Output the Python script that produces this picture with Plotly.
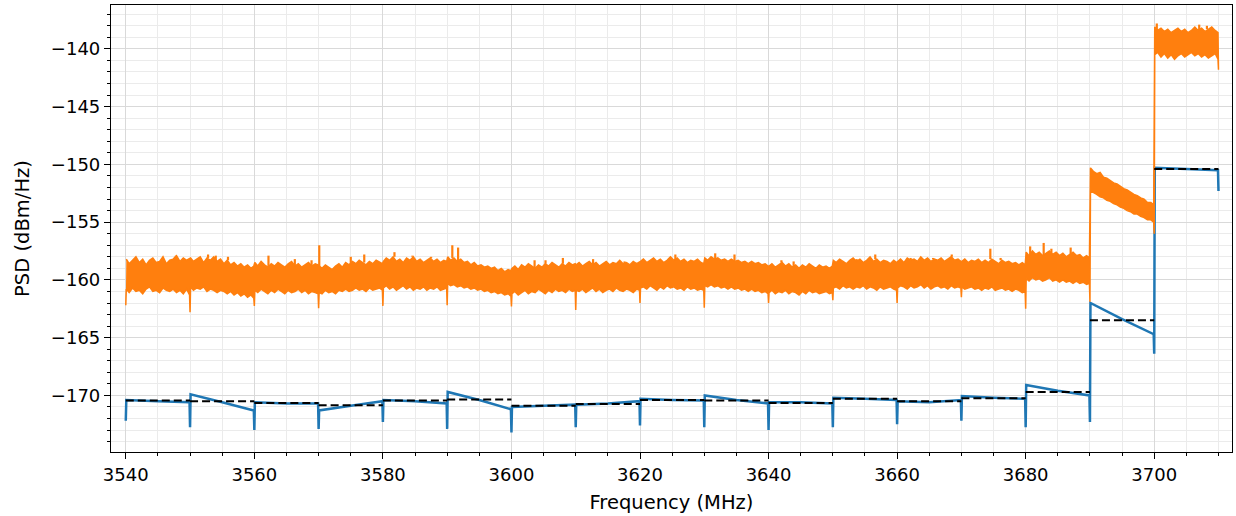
import plotly.graph_objects as go

# ---------------- data ----------------
seg_start = [3540, 3550, 3560, 3570, 3580, 3590, 3600, 3610, 3620,
             3630, 3640, 3650, 3660, 3670, 3680, 3690, 3700]
seg_width = 10

# blue trace: dip at segment start, then level at start / middle / end
blue_dip = [-172.2, -172.75, -173.0, -172.9, -172.3, -172.9, -173.2, -172.75, -172.6,
            -172.75, -173.0, -172.75, -172.5, -172.2, -172.75, -172.3, -166.4]
blue_start = [-170.4, -169.9, -170.6, -171.3, -170.4, -169.7, -171.0, -170.8, -170.3,
              -170.0, -170.6, -170.2, -170.5, -170.05, -169.1, -162.0, -150.3]
blue_mid = [-170.5, -170.6, -170.7, -170.9, -170.5, -170.4, -170.9, -170.7, -170.4,
            -170.4, -170.6, -170.3, -170.6, -170.2, -169.6, -163.4, -150.4]
blue_end = [-170.6, -171.3, -170.7, -170.5, -170.7, -171.2, -170.8, -170.5, -170.45,
            -170.7, -170.7, -170.4, -170.4, -170.3, -170.0, -164.7, -150.5]
blue_final_dip = -152.3

# black dashed: per-segment mean level
dash_level = [-170.45, -170.5, -170.65, -170.85, -170.45, -170.35, -170.9, -170.75, -170.4,
              -170.45, -170.65, -170.3, -170.5, -170.25, -169.7, -163.5, -150.4]

# orange trace: dip at segment start, upper / lower envelope (20 readings per segment)
orange_dip = [-162.2, -162.8, -162.25, -162.45, -162.25, -162.2, -162.3, -162.6, -162.0,
              -162.4, -162.0, -161.75, -162.0, -161.5, -162.5, -161.9, -156.0]
orange_final_dip = -141.8
orange_top = [
    [-158.2, -158.6, -158.3, -158.0, -158.5, -158.2, -158.7, -158.3, -158.1, -158.5,
     -158.4, -158.0, -158.6, -158.3, -158.2, -157.9, -158.4, -158.1, -158.3, -158.2],
    [-158.1, -158.4, -158.2, -158.0, -158.5, -158.1, -158.3, -158.0, -158.4, -158.2,
     -158.6, -158.3, -158.7, -158.5, -158.8, -158.6, -158.9, -158.7, -159.0, -158.8],
    [-158.5, -158.8, -158.4, -158.7, -158.9, -158.6, -158.8, -158.5, -158.7, -158.9,
     -158.6, -158.4, -158.8, -158.6, -158.9, -158.7, -158.5, -158.8, -158.6, -158.7],
    [-158.8, -159.0, -158.7, -158.9, -159.1, -158.8, -158.6, -158.9, -158.5, -158.7,
     -158.4, -158.6, -158.3, -158.5, -158.7, -158.4, -158.6, -158.3, -158.5, -158.6],
    [-158.4, -158.1, -158.3, -158.0, -158.4, -158.2, -158.5, -158.1, -158.3, -158.0,
     -158.4, -158.2, -158.5, -158.3, -158.1, -158.4, -158.2, -158.5, -158.3, -158.4],
    [-158.0, -158.3, -158.1, -158.4, -158.2, -158.5, -158.4, -158.7, -158.5, -158.8,
     -158.7, -158.9, -158.8, -159.0, -158.9, -159.2, -159.0, -159.3, -159.1, -159.2],
    [-159.0, -158.8, -159.1, -158.7, -158.9, -158.6, -158.8, -159.0, -158.7, -158.9,
     -158.6, -158.8, -158.5, -158.7, -158.9, -158.6, -158.8, -158.5, -158.7, -158.6],
    [-158.7, -158.5, -158.8, -158.6, -158.4, -158.7, -158.5, -158.8, -158.6, -158.4,
     -158.7, -158.5, -158.6, -158.3, -158.6, -158.5, -158.7, -158.4, -158.6, -158.5],
    [-158.4, -158.2, -158.5, -158.3, -158.1, -158.4, -158.2, -158.5, -158.3, -158.0,
     -158.3, -158.1, -158.4, -158.2, -158.5, -158.3, -158.4, -158.2, -158.5, -158.6],
    [-158.1, -158.3, -158.0, -158.2, -158.1, -158.3, -158.2, -158.4, -158.2, -158.4,
     -158.3, -158.5, -158.4, -158.6, -158.4, -158.6, -158.5, -158.7, -158.6, -158.8],
    [-158.8, -158.6, -158.9, -158.7, -158.5, -158.8, -158.6, -158.9, -158.7, -159.0,
     -158.7, -158.9, -158.6, -158.8, -159.0, -158.7, -158.9, -158.8, -159.0, -158.8],
    [-158.3, -158.5, -158.2, -158.4, -158.6, -158.3, -158.1, -158.4, -158.2, -158.5,
     -158.3, -158.0, -158.4, -158.2, -158.5, -158.3, -158.4, -158.6, -158.3, -158.5],
    [-158.4, -158.2, -158.5, -158.1, -158.3, -158.2, -158.4, -158.0, -158.3, -158.1,
     -158.4, -158.2, -158.3, -158.1, -158.4, -158.2, -158.0, -158.3, -158.2, -158.4],
    [-158.4, -158.2, -158.5, -158.3, -158.4, -158.2, -158.5, -158.3, -158.5, -158.2,
     -158.4, -158.6, -158.3, -158.5, -158.4, -158.6, -158.5, -158.7, -158.5, -158.7],
    [-157.6, -157.9, -157.5, -157.8, -157.6, -157.9, -157.7, -157.5, -157.8, -157.6,
     -157.9, -157.7, -158.0, -157.8, -157.6, -157.9, -157.8, -158.1, -157.9, -158.1],
    [-150.3, -150.6, -150.8, -150.7, -151.1, -151.2, -151.4, -151.6, -151.7, -151.9,
     -152.1, -152.2, -152.4, -152.6, -152.7, -152.9, -153.0, -153.3, -153.3, -153.5],
    [-138.1, -138.4, -138.2, -138.5, -138.3, -138.6, -138.4, -138.2, -138.5, -138.3,
     -138.6, -138.4, -138.1, -138.4, -138.2, -138.5, -138.3, -138.1, -138.4, -138.6],
]
orange_bot = [
    [-160.8, -161.1, -160.7, -161.0, -160.9, -161.2, -160.8, -160.6, -161.0, -160.9,
     -161.1, -160.7, -160.9, -161.0, -160.8, -161.1, -160.9, -161.2, -160.8, -161.3],
    [-160.6, -160.9, -160.7, -160.8, -160.6, -161.0, -160.8, -160.9, -161.1, -160.9,
     -161.0, -161.2, -161.0, -161.3, -161.1, -161.4, -161.2, -161.5, -161.3, -161.6],
    [-160.9, -161.1, -160.8, -161.0, -161.2, -160.9, -161.1, -160.8, -161.0, -161.2,
     -160.9, -161.1, -161.0, -160.8, -161.1, -160.9, -161.2, -161.0, -161.1, -161.2],
    [-161.1, -161.2, -160.9, -161.1, -161.0, -161.2, -160.9, -161.0, -160.8, -161.0,
     -160.9, -160.7, -160.9, -160.8, -161.0, -160.7, -160.9, -160.8, -160.7, -160.9],
    [-160.7, -160.5, -160.8, -160.6, -160.9, -160.7, -160.5, -160.8, -160.6, -160.9,
     -160.7, -160.8, -160.6, -160.9, -160.7, -160.8, -160.6, -160.9, -160.8, -160.7],
    [-160.3, -160.5, -160.4, -160.6, -160.5, -160.7, -160.6, -160.8, -160.7, -160.9,
     -160.8, -161.0, -160.9, -161.1, -161.0, -161.2, -161.1, -161.3, -161.2, -161.4],
    [-161.2, -161.0, -161.3, -161.1, -160.9, -161.2, -161.0, -161.1, -160.8, -161.0,
     -161.2, -160.9, -161.1, -160.8, -161.0, -160.9, -161.1, -160.8, -161.0, -160.9],
    [-160.9, -161.0, -160.8, -161.1, -160.9, -160.7, -161.0, -160.8, -161.1, -160.9,
     -160.8, -161.0, -160.7, -160.9, -161.0, -160.8, -160.9, -161.1, -160.8, -160.9],
    [-160.7, -160.6, -160.8, -160.5, -160.7, -160.9, -160.6, -160.8, -160.5, -160.7,
     -160.6, -160.8, -160.7, -160.9, -160.6, -160.8, -160.7, -160.9, -160.8, -160.9],
    [-160.5, -160.6, -160.4, -160.6, -160.5, -160.7, -160.6, -160.8, -160.6, -160.8,
     -160.7, -160.9, -160.8, -161.0, -160.8, -161.0, -160.9, -161.1, -161.0, -161.2],
    [-161.1, -160.9, -161.2, -161.0, -161.1, -160.9, -161.2, -161.0, -161.1, -161.3,
     -161.0, -161.2, -160.9, -161.1, -161.0, -161.2, -161.1, -161.0, -161.2, -161.1],
    [-160.7, -160.6, -160.8, -160.5, -160.7, -160.6, -160.8, -160.6, -160.7, -160.5,
     -160.8, -160.6, -160.7, -160.9, -160.6, -160.8, -160.7, -160.6, -160.8, -160.9],
    [-160.7, -160.5, -160.6, -160.8, -160.5, -160.7, -160.6, -160.4, -160.7, -160.5,
     -160.8, -160.6, -160.5, -160.7, -160.6, -160.8, -160.5, -160.7, -160.6, -160.7],
    [-160.6, -160.8, -160.7, -160.6, -160.8, -160.7, -160.9, -160.7, -160.8, -160.6,
     -160.9, -160.8, -160.7, -160.9, -160.8, -161.0, -160.8, -160.9, -161.1, -161.0],
    [-159.9, -160.1, -159.8, -160.0, -159.9, -160.1, -160.0, -159.8, -160.1, -160.0,
     -160.2, -160.0, -160.2, -160.1, -160.3, -160.1, -160.3, -160.2, -160.4, -160.3],
    [-152.3, -152.4, -152.6, -152.8, -152.9, -153.1, -153.2, -153.4, -153.5, -153.7,
     -153.8, -154.0, -154.1, -154.3, -154.3, -154.5, -154.6, -154.8, -154.8, -155.0],
    [-140.5, -140.3, -140.7, -140.4, -140.8, -140.5, -140.9, -140.6, -140.4, -140.7,
     -140.5, -140.3, -140.6, -140.4, -140.7, -140.5, -140.8, -140.6, -140.4, -140.9],
]
# narrow upward spikes of the orange trace
spike_freq = [3547.8, 3549.1, 3552.8, 3554.0, 3555.9, 3562.2, 3566.3, 3568.9, 3570.1,
              3575.0, 3577.1, 3581.8, 3584.6, 3587.5, 3590.8, 3591.7, 3603.6, 3605.3,
              3608.0, 3612.7, 3617.6, 3622.2, 3625.5, 3631.7, 3634.7, 3642.0, 3643.9,
              3653.7, 3656.6, 3662.1, 3665.6, 3668.5, 3674.5, 3676.1, 3680.7, 3682.8,
              3684.0, 3687.0, 3700.4, 3707.0, 3708.2]
spike_val = [-158.1, -158.1, -157.8, -157.9, -158.0, -157.9, -158.2, -158.3, -157.0,
             -158.0, -157.8, -157.6, -157.9, -158.0, -157.0, -157.2, -158.3, -158.3,
             -158.1, -158.2, -158.4, -158.1, -157.8, -157.7, -157.8, -158.3, -158.4,
             -158.2, -157.8, -158.1, -158.1, -157.8, -157.3, -158.1, -157.1, -156.8,
             -157.3, -157.2, -137.8, -137.9, -138.0]

# ---------------- geometry helpers (style only) ----------------
n_read = len(orange_top[0])
offs = [0.08] + [seg_width * k / (n_read - 1) for k in range(1, n_read - 1)] + [seg_width - 0.08]
f_end = seg_start[-1] + seg_width

# blue line
bx, by = [], []
for i, f0 in enumerate(seg_start):
    bx += [f0, f0 + 0.08, f0 + seg_width / 2, f0 + seg_width - 0.08]
    by += [blue_dip[i], blue_start[i], blue_mid[i], blue_end[i]]
bx.append(f_end)
by.append(blue_final_dip)

# orange band polygon
ox, oy = [], []
for i, f0 in enumerate(seg_start):
    ox += [f0 + o for o in offs]
    oy += orange_top[i]
ox.append(f_end)
oy.append(orange_final_dip)
for i in range(len(seg_start) - 1, -1, -1):
    f0 = seg_start[i]
    ox += [f0 + o for o in reversed(offs)]
    oy += list(reversed(orange_bot[i]))
    ox.append(f0)
    oy.append(orange_dip[i])

# spikes drawn from the nearest envelope reading
sx, sy = [], []
for f, v in zip(spike_freq, spike_val):
    i = min(int((f - seg_start[0]) // seg_width), len(seg_start) - 1)
    f0 = seg_start[i]
    k = min(range(len(offs)), key=lambda j: abs(f0 + offs[j] - f))
    sx += [f, f, None]
    sy += [orange_top[i][k], v, None]

# dashed mean levels
dx, dy = [], []
for i, f0 in enumerate(seg_start):
    dx += [f0, f0 + seg_width, None]
    dy += [dash_level[i], dash_level[i], None]

BLUE = "#1f77b4"
ORANGE = "#ff7f0e"

fig = go.Figure()
fig.add_trace(go.Scatter(x=bx, y=by, mode="lines",
                         line=dict(color=BLUE, width=2.5), showlegend=False))
fig.add_trace(go.Scatter(x=ox, y=oy, mode="lines", fill="toself", fillcolor=ORANGE,
                         line=dict(color=ORANGE, width=1.5), showlegend=False))
fig.add_trace(go.Scatter(x=sx, y=sy, mode="lines",
                         line=dict(color=ORANGE, width=2.2), showlegend=False))
fig.add_trace(go.Scatter(x=dx, y=dy, mode="lines",
                         line=dict(color="black", width=2, dash="8px,4px"), showlegend=False))

font = dict(family="DejaVu Sans", size=18, color="black")
title_font = dict(family="DejaVu Sans", size=19.5, color="black")
grid_major = "#d9d9d9"
grid_minor = "#ebebeb"

fig.update_layout(
    width=1236, height=516,
    margin=dict(l=111, r=4, t=5, b=64),
    paper_bgcolor="white", plot_bgcolor="white",
    font=font,
    xaxis=dict(
        range=[3537.7, 3712.1], tick0=3540, dtick=20,
        showgrid=True, gridcolor=grid_major, gridwidth=1,
        ticks="outside", ticklen=6, tickcolor="black", tickwidth=1.2,
        showline=True, linecolor="black", linewidth=1.2, mirror=True,
        zeroline=False,
        minor=dict(tick0=3540, dtick=5, ticks="outside", ticklen=3, tickcolor="black",
                   showgrid=True, gridcolor=grid_minor, gridwidth=1),
        title=dict(text="Frequency (MHz)", font=title_font, standoff=11),
        tickfont=font,
    ),
    yaxis=dict(
        range=[-174.9, -136.2], tick0=-140, dtick=5,
        showgrid=True, gridcolor=grid_major, gridwidth=1,
        ticks="outside", ticklen=6, tickcolor="black", tickwidth=1.2,
        showline=True, linecolor="black", linewidth=1.2, mirror=True,
        zeroline=False,
        minor=dict(tick0=-140, dtick=1, ticks="outside", ticklen=3, tickcolor="black",
                   showgrid=True, gridcolor=grid_minor, gridwidth=1),
        title=dict(text="PSD (dBm/Hz)", font=title_font, standoff=16),
        tickfont=font,
    ),
)

fig.write_html("out.html")
